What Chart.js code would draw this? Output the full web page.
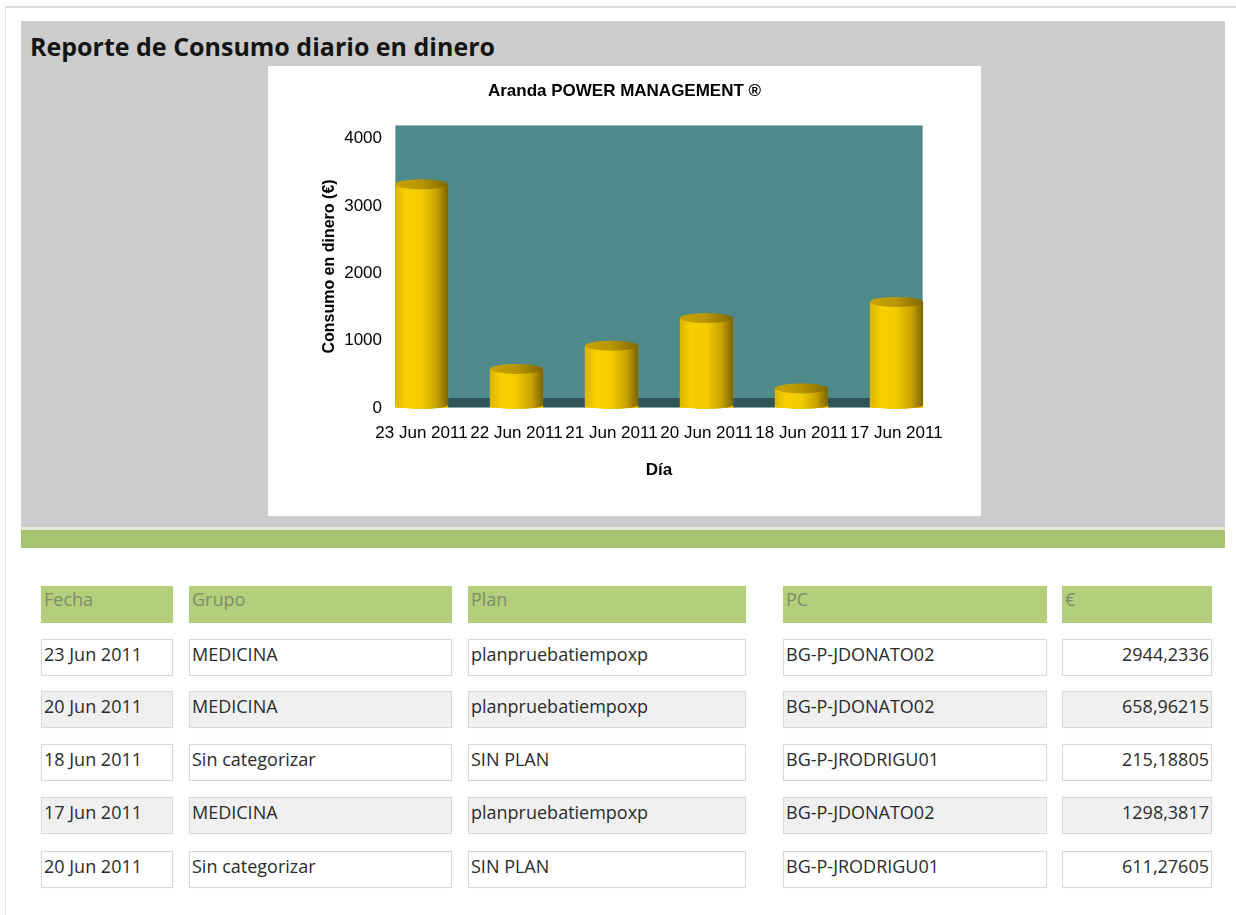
<!DOCTYPE html>
<html>
<head>
<meta charset="utf-8">
<script src="https://cdn.jsdelivr.net/npm/chart.js@4.4.1/dist/chart.umd.min.js"></script>
<style>
html,body{margin:0;padding:0;background:#fff;width:1236px;height:915px;overflow:hidden;position:relative;font-family:'Open Sans',sans-serif}
.abs{position:absolute}
#frameTop{left:5px;top:6px;width:1231px;height:2px;background:#dcdcdc}
#frameLeft{left:5px;top:6px;width:1px;height:909px;background:#e6e6e6}
#panel{left:21px;top:21px;width:1204px;height:506px;background:#cccccc}
#title{left:30px;top:34px;font-weight:bold;font-size:25px;line-height:25px;color:#141414;white-space:nowrap;margin:0}
#chartBox{left:268px;top:66px;width:713px;height:450px;background:#fff}
#sep{left:21px;top:527px;width:1204px;height:3px;background:#e3e9d6}
#green{left:21px;top:530px;width:1204px;height:18px;background:#a6c36f}
.cell{position:absolute;height:37px;box-sizing:border-box;border:1px solid #d8d8d8;font-size:18px;color:#2b2b2b;padding:2px 2px 0 2px;white-space:nowrap;overflow:hidden;line-height:24px;background:#fff;box-shadow:0 0 1px rgba(0,0,0,0.08)}
.hdr{background:#b3cf7b;border-color:#b3cf7b;color:#7d8c6c;padding-top:0}
.alt{background:#f0f0f0}
.num{text-align:right}
</style>
</head>
<body>
<div id="frameTop" class="abs"></div>
<div id="frameLeft" class="abs"></div>
<div id="panel" class="abs"></div>
<h1 id="title" class="abs">Reporte de Consumo diario en dinero</h1>
<div id="chartBox" class="abs"><canvas id="c" width="713" height="450"></canvas></div>
<div id="sep" class="abs"></div>
<div id="green" class="abs"></div>
<div id="table"></div>
<script>
// ---- chart data ----
const days = ['23 Jun 2011','22 Jun 2011','21 Jun 2011','20 Jun 2011','18 Jun 2011','17 Jun 2011'];
const consumo = [3320, 580, 925, 1335, 290, 1575];
const yTicks = [0, 1000, 2000, 3000, 4000];
const chartTitle = 'Aranda POWER MANAGEMENT ®';
const yTitle = 'Consumo en dinero (€)';
const xTitle = 'Día';

// ---- table data ----
const headers = ['Fecha','Grupo','Plan','PC','€'];
const colFecha = ['23 Jun 2011','20 Jun 2011','18 Jun 2011','17 Jun 2011','20 Jun 2011'];
const colGrupo = ['MEDICINA','MEDICINA','Sin categorizar','MEDICINA','Sin categorizar'];
const colPlan = ['planpruebatiempoxp','planpruebatiempoxp','SIN PLAN','planpruebatiempoxp','SIN PLAN'];
const colPC = ['BG-P-JDONATO02','BG-P-JDONATO02','BG-P-JRODRIGU01','BG-P-JDONATO02','BG-P-JRODRIGU01'];
const colEuro = ['2944,2336','658,96215','215,18805','1298,3817','611,27605'];

// table layout
const colLeft = [41, 189, 468, 783, 1062];
const colRight = [173, 452, 746, 1047, 1212];
const rowTop = [586, 639, 691, 744, 797, 851];
(function buildTable(){
  const t = document.getElementById('table');
  const cols = [colFecha, colGrupo, colPlan, colPC, colEuro];
  function add(text, r, c, cls){
    const d = document.createElement('div');
    d.className = 'cell ' + cls;
    d.style.left = colLeft[c] + 'px';
    d.style.top = rowTop[r] + 'px';
    d.style.width = (colRight[c] - colLeft[c]) + 'px';
    d.textContent = text;
    t.appendChild(d);
  }
  headers.forEach((h, c) => add(h, 0, c, 'hdr'));
  for (let i = 0; i < colFecha.length; i++) {
    cols.forEach((col, c) => add(col[i], i + 1, c, (i % 2 === 1 ? 'alt ' : '') + (c === 4 ? 'num' : '')));
  }
})();

const cylinderPlugin = {
  id: 'cylinders',
  beforeDatasetsDraw(chart) {
    const {ctx, chartArea: a} = chart;
    ctx.save();
    ctx.fillStyle = '#4e8a8a';
    ctx.fillRect(a.left, a.top, a.right - a.left, a.bottom - a.top);
    ctx.fillStyle = '#2f5558';
    ctx.fillRect(a.left, a.bottom - 10, a.right - a.left, 10);
    ctx.strokeStyle = 'rgba(200,215,215,0.6)';
    ctx.lineWidth = 1;
    ctx.strokeRect(a.left + 0.5, a.top + 0.5, a.right - a.left - 1, a.bottom - a.top - 1);
    ctx.restore();
  },
  afterDatasetsDraw(chart) {
    const {ctx} = chart;
    chart.getDatasetMeta(0).data.forEach(bar => {
      const w = bar.width, cx = bar.x, l = cx - w / 2, r = cx + w / 2;
      const top = bar.y, base = bar.base - 3;
      const g = ctx.createLinearGradient(l, 0, r, 0);
      g.addColorStop(0, '#dcb400');
      g.addColorStop(0.2, '#f6d000');
      g.addColorStop(0.5, '#f2cb00');
      g.addColorStop(0.78, '#c9a300');
      g.addColorStop(1, '#7a6300');
      ctx.save();
      ctx.fillStyle = g;
      ctx.beginPath();
      ctx.moveTo(l, top);
      ctx.lineTo(l, base);
      ctx.ellipse(cx, base, w / 2, 4, 0, Math.PI, 0, true);
      ctx.lineTo(r, top);
      ctx.closePath();
      ctx.fill();
      const g2 = ctx.createLinearGradient(l, 0, r, 0);
      g2.addColorStop(0, '#c7a200');
      g2.addColorStop(0.5, '#b89600');
      g2.addColorStop(1, '#7e6700');
      ctx.fillStyle = g2;
      ctx.beginPath();
      ctx.ellipse(cx, top, w / 2, 5, 0, 0, Math.PI * 2);
      ctx.fill();
      ctx.restore();
    });
  }
};

const FONT = "'Liberation Sans', Arial, sans-serif";

new Chart(document.getElementById('c'), {
  type: 'bar',
  data: {
    datasets: [{
      label: yTitle,
      data: consumo.map((v, i) => ({x: i, y: v})),
      backgroundColor: '#f2cb00',
      borderWidth: 0,
      barPercentage: 0.56,
      categoryPercentage: 1
    }]
  },
  options: {
    responsive: false,
    animation: false,
    devicePixelRatio: 1,
    layout: {padding: 0},
    plugins: {
      legend: {display: false},
      tooltip: {enabled: false},
      title: {
        display: true, text: chartTitle, color: '#000',
        font: {family: FONT, size: 17, weight: 'bold'},
        padding: {top: 15, bottom: 23.6}
      }
    },
    scales: {
      x: {
        type: 'linear', min: -0.279, max: 5.279, offset: false,
        grid: {display: false}, border: {display: false},
        afterBuildTicks: s => { s.ticks = days.map((d, i) => ({value: i})); },
        afterFit: s => { s.height = 108; },
        ticks: {
          callback: v => days[v], autoSkip: false, maxRotation: 0, minRotation: 0,
          padding: 7, color: '#000',
          font: {family: FONT, size: 17}
        },
        title: {
          display: true, text: xTitle, color: '#000',
          font: {family: FONT, size: 17, weight: 'bold'},
          padding: {top: 0, bottom: 35}
        }
      },
      y: {
        min: 0, max: 4200,
        grid: {display: false}, border: {display: false},
        afterBuildTicks: s => { s.ticks = yTicks.map(v => ({value: v})); },
        afterFit: s => { s.width = 127; },
        ticks: {
          padding: 5, color: '#000',
          callback: v => String(v),
          font: {family: FONT, size: 17}
        },
        title: {
          display: true, text: yTitle, color: '#000',
          font: {family: FONT, size: 16, weight: 'bold'},
          padding: {top: 52.4, bottom: 0}
        }
      },
      yRight: {
        position: 'right', display: true, min: 0, max: 4200,
        grid: {display: false}, border: {display: false},
        ticks: {display: false},
        afterFit: s => { s.width = 58; }
      }
    }
  },
  plugins: [cylinderPlugin]
});
</script>
</body>
</html>
